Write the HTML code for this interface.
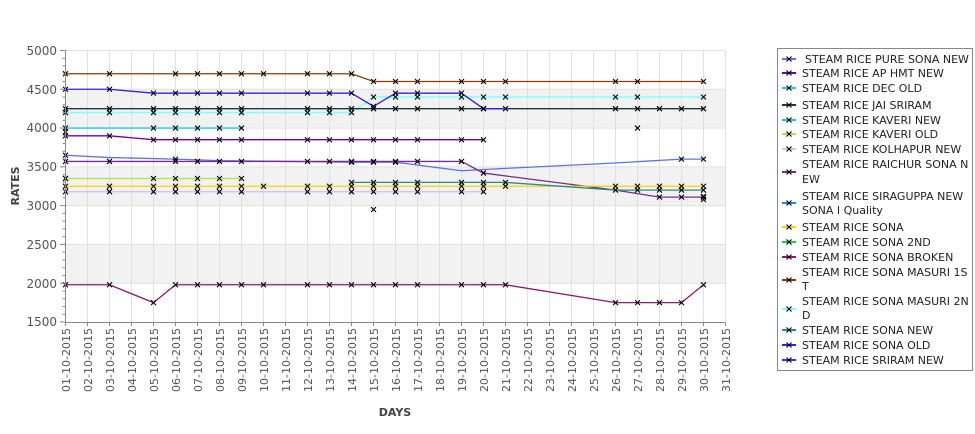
<!DOCTYPE html>
<html><head><meta charset="utf-8"><style>
body{margin:0;background:#fff;}
svg text{font-family:"DejaVu Sans","Liberation Sans",sans-serif;}
</style></head><body>
<svg id="s" width="975" height="429" xmlns="http://www.w3.org/2000/svg">
<rect x="0" y="0" width="975" height="429" fill="#fff"/>
<rect x="65.5" y="89.3" width="660" height="38.8" fill="#f2f2f2"/>
<rect x="65.5" y="166.9" width="660" height="38.7" fill="#f2f2f2"/>
<rect x="65.5" y="244.4" width="660" height="38.8" fill="#f2f2f2"/>
<g id="grid" stroke="#e0e0e0" stroke-width="1"></g>
<g id="series"></g>
<line x1="65.5" y1="50" x2="65.5" y2="322.5" stroke="#888"/>
<line x1="65" y1="322.5" x2="725.5" y2="322.5" stroke="#888"/>
<g id="ticks" stroke="#888"></g>
<g font-size="12" fill="#555" text-anchor="end">
<text x="57" y="55">5000</text><text x="57" y="94">4500</text><text x="57" y="132">4000</text>
<text x="57" y="171">3500</text><text x="57" y="210">3000</text><text x="57" y="249">2500</text>
<text x="57" y="288">2000</text><text x="57" y="326">1500</text>
</g>
<text x="19" y="186" font-size="11" font-weight="bold" fill="#444" text-anchor="middle" transform="rotate(-90 19 186)">RATES</text>
<text x="395" y="416" font-size="11" font-weight="bold" fill="#444" text-anchor="middle">DAYS</text>
<g font-size="11" fill="#555" text-anchor="end">
<text transform="translate(70,328) rotate(-90)">01-10-2015</text>
<text transform="translate(92,328) rotate(-90)">02-10-2015</text>
<text transform="translate(114,328) rotate(-90)">03-10-2015</text>
<text transform="translate(136,328) rotate(-90)">04-10-2015</text>
<text transform="translate(158,328) rotate(-90)">05-10-2015</text>
<text transform="translate(180,328) rotate(-90)">06-10-2015</text>
<text transform="translate(202,328) rotate(-90)">07-10-2015</text>
<text transform="translate(224,328) rotate(-90)">08-10-2015</text>
<text transform="translate(246,328) rotate(-90)">09-10-2015</text>
<text transform="translate(268,328) rotate(-90)">10-10-2015</text>
<text transform="translate(290,328) rotate(-90)">11-10-2015</text>
<text transform="translate(312,328) rotate(-90)">12-10-2015</text>
<text transform="translate(334,328) rotate(-90)">13-10-2015</text>
<text transform="translate(356,328) rotate(-90)">14-10-2015</text>
<text transform="translate(378,328) rotate(-90)">15-10-2015</text>
<text transform="translate(400,328) rotate(-90)">16-10-2015</text>
<text transform="translate(422,328) rotate(-90)">17-10-2015</text>
<text transform="translate(444,328) rotate(-90)">18-10-2015</text>
<text transform="translate(466,328) rotate(-90)">19-10-2015</text>
<text transform="translate(488,328) rotate(-90)">20-10-2015</text>
<text transform="translate(510,328) rotate(-90)">21-10-2015</text>
<text transform="translate(532,328) rotate(-90)">22-10-2015</text>
<text transform="translate(554,328) rotate(-90)">23-10-2015</text>
<text transform="translate(576,328) rotate(-90)">24-10-2015</text>
<text transform="translate(598,328) rotate(-90)">25-10-2015</text>
<text transform="translate(620,328) rotate(-90)">26-10-2015</text>
<text transform="translate(642,328) rotate(-90)">27-10-2015</text>
<text transform="translate(664,328) rotate(-90)">28-10-2015</text>
<text transform="translate(686,328) rotate(-90)">29-10-2015</text>
<text transform="translate(708,328) rotate(-90)">30-10-2015</text>
<text transform="translate(730,328) rotate(-90)">31-10-2015</text>
</g>
<rect x="777.5" y="48.5" width="195" height="322" fill="#fff" stroke="#888"/>
<g id="leg"></g>
<g font-size="11" fill="#222">
<text x="805" y="63">STEAM RICE PURE SONA NEW</text>
<text x="802" y="77">STEAM RICE AP HMT NEW</text>
<text x="802" y="92">STEAM RICE DEC OLD</text>
<text x="802" y="109">STEAM RICE JAI SRIRAM</text>
<text x="802" y="124">STEAM RICE KAVERI NEW</text>
<text x="802" y="138">STEAM RICE KAVERI OLD</text>
<text x="802" y="153">STEAM RICE KOLHAPUR NEW</text>
<text x="802" y="168">STEAM RICE RAICHUR SONA N</text>
<text x="802" y="183">EW</text>
<text x="802" y="200">STEAM RICE SIRAGUPPA NEW</text>
<text x="802" y="214">SONA I Quality</text>
<text x="802" y="231">STEAM RICE SONA</text>
<text x="802" y="246">STEAM RICE SONA 2ND</text>
<text x="802" y="261">STEAM RICE SONA BROKEN</text>
<text x="802" y="276">STEAM RICE SONA MASURI 1S</text>
<text x="802" y="290">T</text>
<text x="802" y="305">STEAM RICE SONA MASURI 2N</text>
<text x="802" y="319">D</text>
<text x="802" y="334">STEAM RICE SONA NEW</text>
<text x="802" y="349">STEAM RICE SONA OLD</text>
<text x="802" y="364">STEAM RICE SRIRAM NEW</text>
</g>
</svg>
<script>
var NS="http://www.w3.org/2000/svg";
function X(d){return 65.5+(d-1)*22;}
function Y(v){return 50.5+(5000-v)*271.5/3500;}
function el(p,t,a){var e=document.createElementNS(NS,t);for(var k in a)e.setAttribute(k,a[k]);document.getElementById(p).appendChild(e);return e;}
for(var d=2;d<=31;d++)el("grid","line",{x1:X(d),y1:50,x2:X(d),y2:322});
[5000,4500,4000,3500,3000,2500,2000].forEach(function(v){el("grid","line",{x1:65.5,y1:Y(v),x2:725.5,y2:Y(v)});});
for(var v=1500;v<=5000;v+=100){var big=v%500==0;el("ticks","line",{x1:big?60:62.5,y1:Y(v),x2:65.5,y2:Y(v)});}
for(var d=1;d<=31;d++)el("ticks","line",{x1:X(d),y1:322.5,x2:X(d),y2:326});
function mark(p,x,y){el(p,"path",{d:"M"+(x-2.5)+" "+(y-2.5)+"L"+(x+2.5)+" "+(y+2.5)+"M"+(x+2.5)+" "+(y-2.5)+"L"+(x-2.5)+" "+(y+2.5),stroke:"#000","stroke-width":1.1,fill:"none"});}
function S(col,pts){var s=pts.map(function(p){return X(p[0])+","+Y(p[1]);}).join(" ");
el("series","polyline",{points:s,fill:"none",stroke:col,"stroke-width":1.3});
pts.forEach(function(p){if(p[2]!==0)mark("series",X(p[0]),Y(p[1]));});}
function flat(v,days){return days.map(function(d){return [d,v];});}
S("#8b3a00",flat(4700,[1,3,6,7,8,9,10,12,13,14]).concat(flat(4600,[15,16,17,19,20,21,26,27,30])));
S("#80ffff",flat(4200,[1,3,5,6,7,8,9,12,13,14]).concat(flat(4400,[15,16,17,19,20,21,26,27,30])));
S("#1a3a3a",flat(4250,[1,3,5,6,7,8,9,12,13,14,15,16,17,19,20,21,26,27,28,29,30]));
S("#3a1fe0",[[1,4500],[3,4500],[5,4450],[6,4450],[7,4450],[8,4450],[9,4450],[12,4450],[13,4450],[14,4450],[15,4280],[16,4450],[17,4450],[19,4450],[20,4250],[21,4250,0]]);
S("#20c8e8",flat(4000,[1,5,6,7,8,9]));
S("#7000a8",[[1,3900],[3,3900]].concat(flat(3850,[5,6,7,8,9,12,13,14,15,16,17,19,20])));
S("#6070f0",[[1,3650],[3,3620,0],[6,3600],[8,3580,0],[14,3560],[15,3560],[16,3560],[19,3450,0],[21,3480,0],[26,3550,0],[29,3600],[30,3600]]);
S("#7a2a90",flat(3570,[1,3,6,7,8,9,12,13,14,15,16,17,19]).concat([[20,3420],[26,3200,0],[28,3110],[29,3110],[30,3110]]));
S("#b8e040",flat(3350,[1,5,6,7,8,9]));
S("#ffd000",flat(3250,[1,3,5,6,7,8,9,10,12,13,14,15,16,17,19,20,21,26,27,28,29,30]));
S("#d8c0f0",flat(3180,[1,3,5,6,7,8,9,12,13,14,15,16,17,19,20]));
S("#208c90",flat(3300,[14,15,16,17,19,20,21]).concat(flat(3200,[26,27,28,29,30])));
S("#8b1a6a",[[1,1980],[3,1980],[5,1750],[6,1980],[7,1980],[8,1980],[9,1980],[10,1980],[12,1980],[13,1980],[14,1980],[15,1980],[16,1980],[17,1980],[19,1980],[20,1980],[21,1980],[26,1750],[27,1750],[28,1750],[29,1750],[30,1980]]);
mark("series",X(15),Y(2950));mark("series",X(27),Y(4000));mark("series",X(1),Y(3950));mark("series",X(1),Y(3350));mark("series",X(30),Y(3080));mark("series",X(30),Y(3120));
var lc=[["#6070f0",59],["#7000a8",73],["#20c8e8",88],["#1a3a3a",105],["#20c8b0",120],["#b8e040",134],["#d8c0f0",149],["#7a2a90",172],["#2a8ad0",203],["#ffd000",227],["#20d040",242],["#8b1a6a",257],["#8b3a00",280],["#80ffff",309],["#208c90",330],["#3a1fe0",345],["#3030f0",360]];
lc.forEach(function(c){el("leg","line",{x1:782,y1:c[1],x2:796,y2:c[1],stroke:c[0],"stroke-width":2});mark("leg",789,c[1]);});
</script>
</body></html>
